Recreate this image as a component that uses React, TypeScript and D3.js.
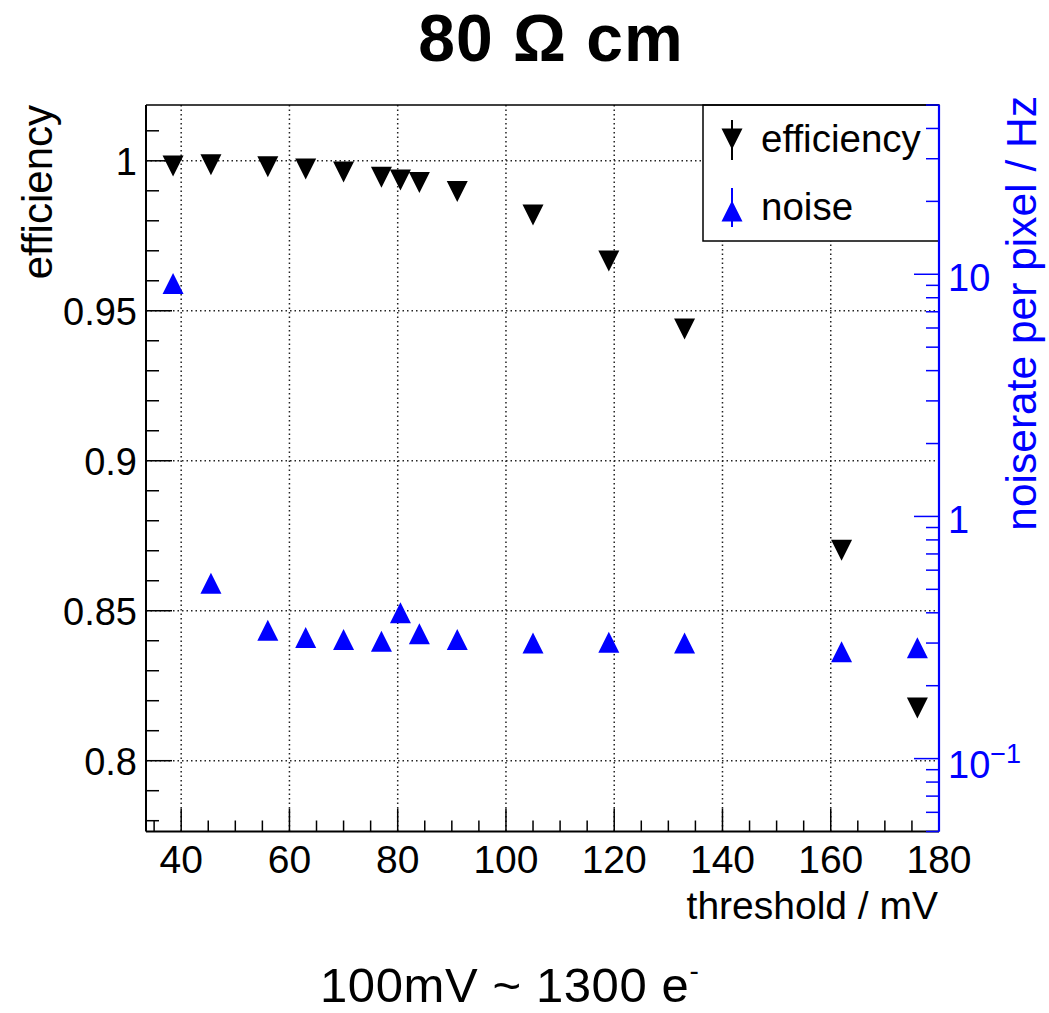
import React from "react";
import * as d3 from "d3";

const thresholds = [38.5, 45.5, 56, 63, 70, 77, 80.5, 84, 91, 105, 119, 133, 162, 176];
const efficiency = [0.9983, 0.9987, 0.998, 0.9973, 0.9963, 0.9945, 0.9936, 0.9928, 0.9898, 0.9819, 0.9666, 0.9439, 0.8702, 0.8176];
const noise = [9.15, 0.53, 0.339, 0.316, 0.31, 0.305, 0.40, 0.328, 0.31, 0.30, 0.302, 0.30, 0.276, 0.287];

const xMajorTicks = [40, 60, 80, 100, 120, 140, 160, 180];
const effMajorTicks = [0.8, 0.85, 0.9, 0.95, 1.0];
const effTickLabels = ["0.8", "0.85", "0.9", "0.95", "1"];
const noiseMajorTicks = [0.1, 1, 10];

const W = 1049;
const H = 1013;
const L = 146, R = 939, T = 105, B = 831.5;
const FONT = "'Liberation Sans', Arial, Helvetica, sans-serif";
const BLUE = "#0000ff";

export default function App() {
  const x = d3.scaleLinear().domain([33.5, 180]).range([L, R]);
  const yL = d3.scaleLinear().domain([0.7764, 1.0186]).range([B, T]);
  const yR = d3.scaleLog().domain([0.05, 50]).range([B, T]);

  const xMinor = d3.range(35, 181, 5).filter((v) => v % 20 !== 0);
  const yMinor = d3.range(78, 102, 1).map((v) => v / 100).filter((v) => Math.round(v * 100) % 5 !== 0);
  const rMinor = yR.ticks().filter((v) => !noiseMajorTicks.some((m) => Math.abs(m - v) < 1e-9));

  const r = 10.5;
  const down = (cx: number, cy: number) => `M${cx - r},${cy - r}L${cx + r},${cy - r}L${cx},${cy + r}Z`;
  const up = (cx: number, cy: number) => `M${cx - r},${cy + r}L${cx + r},${cy + r}L${cx},${cy - r}Z`;

  const grid = { stroke: "#222", strokeWidth: 1.5, strokeDasharray: "1.5 3" };

  return (
    <svg width={W} height={H} style={{ position: "absolute", left: 0, top: 0, background: "#fff" }} fontFamily={FONT}>
      <rect x={0} y={0} width={W} height={H} fill="#fff" />
      {/* title */}
      <text x={551} y={61} textAnchor="middle" fontSize={66} fontWeight="bold" fill="#000" letterSpacing={1}>80 Ω cm</text>

      {/* grid */}
      {xMajorTicks.map((v) => (
        <line key={"gx" + v} x1={x(v)} x2={x(v)} y1={T} y2={B} {...grid} />
      ))}
      {effMajorTicks.map((v) => (
        <line key={"gy" + v} x1={L} x2={R} y1={yL(v)} y2={yL(v)} {...grid} />
      ))}

      {/* data */}
      {thresholds.map((t, i) => (
        <path key={"n" + i} d={up(x(t), yR(noise[i]))} fill={BLUE} />
      ))}
      {thresholds.map((t, i) => (
        <path key={"e" + i} d={down(x(t), yL(efficiency[i]))} fill="#000" />
      ))}

      {/* legend */}
      <rect x={703} y={T} width={R - 703} height={136} fill="#fff" stroke="#000" strokeWidth={1.5} />
      <line x1={732} x2={732} y1={120} y2={160} stroke="#000" strokeWidth={2} />
      <path d={down(732, 139)} fill="#000" />
      <text x={761} y={152} fontSize={38.5} fill="#000">efficiency</text>
      <line x1={732} x2={732} y1={188} y2={227} stroke={BLUE} strokeWidth={2} />
      <path d={up(732, 211)} fill={BLUE} />
      <text x={761} y={220} fontSize={38.5} fill="#000">noise</text>

      {/* frame */}
      <line x1={L} x2={R} y1={T} y2={T} stroke="#000" strokeWidth={1.5} />
      <line x1={L} x2={R} y1={B} y2={B} stroke="#000" strokeWidth={2} />
      <line x1={L} x2={L} y1={T} y2={B} stroke="#000" strokeWidth={2} />

      {/* x ticks */}
      {xMajorTicks.map((v) => (
        <g key={"xt" + v}>
          <line x1={x(v)} x2={x(v)} y1={B} y2={B - 23} stroke="#000" strokeWidth={1.5} />
          <text x={x(v)} y={873} textAnchor="middle" fontSize={39} fill="#000">{v}</text>
        </g>
      ))}
      {xMinor.map((v) => (
        <line key={"xm" + v} x1={x(v)} x2={x(v)} y1={B} y2={B - 11} stroke="#000" strokeWidth={1.5} />
      ))}
      <text x={938} y={919} textAnchor="end" fontSize={39} fill="#000">threshold / mV</text>

      {/* left y ticks */}
      {effMajorTicks.map((v, i) => (
        <g key={"yt" + v}>
          <line x1={L} x2={L + 26} y1={yL(v)} y2={yL(v)} stroke="#000" strokeWidth={1.5} />
          <text x={137} y={yL(v) + 14} textAnchor="end" fontSize={38} fill="#000">{effTickLabels[i]}</text>
        </g>
      ))}
      {yMinor.map((v) => (
        <line key={"ym" + v} x1={L} x2={L + 13} y1={yL(v)} y2={yL(v)} stroke="#000" strokeWidth={1.5} />
      ))}
      <text transform={`translate(52,105) rotate(-90)`} textAnchor="end" fontSize={42} fill="#000">efficiency</text>

      {/* right axis */}
      <line x1={R} x2={R} y1={T} y2={B} stroke={BLUE} strokeWidth={2.2} />
      {noiseMajorTicks.map((v) => (
        <line key={"rt" + v} x1={R} x2={R - 25} y1={yR(v)} y2={yR(v)} stroke={BLUE} strokeWidth={1.5} />
      ))}
      {rMinor.map((v) => (
        <line key={"rm" + v} x1={R} x2={R - 13} y1={yR(v)} y2={yR(v)} stroke={BLUE} strokeWidth={1.5} />
      ))}
      <text x={948} y={yR(10) + 17} fontSize={38} fill={BLUE}>10</text>
      <text x={948} y={yR(1) + 17} fontSize={38} fill={BLUE}>1</text>
      <text x={948} y={yR(0.1) + 19} fontSize={38} fill={BLUE}>
        10<tspan fontSize={27} dy={-15}>−1</tspan>
      </text>
      <text transform={`translate(1036,96) rotate(-90)`} textAnchor="end" fontSize={42.5} fill={BLUE}>noiserate per pixel / Hz</text>

      {/* footnote */}
      <text x={320} y={1002} fontSize={49} fill="#000" letterSpacing={0.6}>
        100mV ~ 1300 e<tspan fontSize={28} dy={-22}>-</tspan>
      </text>
    </svg>
  );
}
